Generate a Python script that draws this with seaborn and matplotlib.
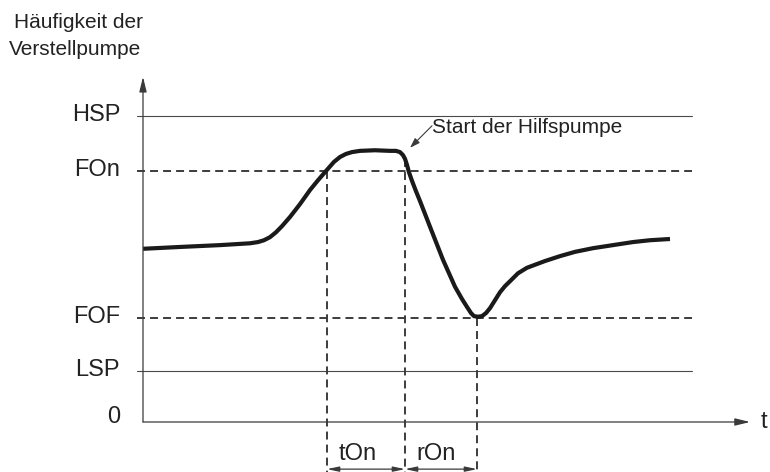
import matplotlib
matplotlib.use("Agg")
import matplotlib.pyplot as plt
import numpy as np
import pandas as pd
import seaborn as sns

# Frequency levels (Hz)
levels_solid = {"HSP": 50.0, "LSP": 8.3}
levels_dash = {"FOn": 41.0, "FOF": 17.0}

# pump frequency curve (time, frequency)
curve_t = [0, 3.7, 7.7, 10.7, 11.5, 12.1, 12.7, 13.3, 13.9, 14.7, 15.7, 16.7, 17.5, 18.4,
           19.1, 19.7, 20.3, 20.9, 21.7, 23.2, 24.7, 25.3, 25.7, 26.0, 26.2, 26.4, 26.6,
           26.9, 27.3, 27.7, 28.7, 30.0, 31.2, 31.9, 32.4, 32.8, 33.1, 33.5, 33.9, 34.3,
           34.7, 35.2, 35.7, 36.2, 36.7, 37.5, 38.4, 40.2, 41.7, 43.2, 45.0, 47.0, 49.0,
           50.7, 52.7]
curve_f = [28.3, 28.6, 28.9, 29.2, 29.4, 29.7, 30.2, 31.0, 32.0, 33.5, 35.6, 37.9, 39.5, 41.2,
           42.5, 43.3, 43.8, 44.1, 44.3, 44.4, 44.3, 44.3, 44.1, 43.6, 43.0, 42.0, 40.8,
           39.4, 37.7, 36.1, 31.9, 26.5, 22.1, 20.1, 18.8, 17.8, 17.3, 17.2, 17.3, 17.8,
           18.6, 19.9, 21.2, 22.2, 23.0, 24.3, 25.2, 26.3, 27.1, 27.8, 28.4, 28.9, 29.4,
           29.7, 29.9]

# time marks: start tOn, end tOn / start rOn, end rOn
mark_t = [18.4, 26.2, 33.4]
mark_top = [41.0, 43.0, 17.0]
span_labels = ["tOn", "rOn"]
span_label_t = [21.5, 29.3]

ylabel_lines = ["Häufigkeit der", "Verstellpumpe"]
annot_text = "Start der Hilfspumpe"

sns.set_style("white")
plt.rcParams["font.family"] = ["Liberation Sans", "DejaVu Sans"]

fig = plt.figure(figsize=(7.7, 4.72), dpi=100)
ax = fig.add_axes([0, 0, 1, 1])
ax.set_xlim(-14.3, 62.7)
ax.set_ylim(-8.17, 68.95)
ax.axis("off")

txt = "#222222"
line_c = "#3a3a3a"
dash = (0, (4.1, 2.6))

# axes with arrows
ax.annotate("", xy=(60.7, 0), xytext=(0, 0),
            arrowprops=dict(arrowstyle="-|>,head_length=0.9,head_width=0.22",
                            color=line_c, lw=0.9, shrinkA=0, shrinkB=0))
ax.annotate("", xy=(0, 56.4), xytext=(0, 0),
            arrowprops=dict(arrowstyle="-|>,head_length=0.9,head_width=0.22",
                            color=line_c, lw=0.9, shrinkA=0, shrinkB=0))

# level lines
for name, v in levels_solid.items():
    ax.plot([-0.6, 54.9], [v, v], color="#4a4a4a", lw=0.8)
    ax.text(-2.3, v - 0.8, name, ha="right", va="baseline", fontsize=17, color=txt)
for name, v in levels_dash.items():
    ax.plot([-0.6, 54.9], [v, v], color="#3c3c3c", lw=1.4, ls=dash)
    ax.text(-2.3, v - 0.8, name, ha="right", va="baseline", fontsize=17, color=txt)
ax.text(-2.3, -0.16, "0", ha="right", va="baseline", fontsize=17, color=txt)
ax.text(61.8, 0, "t", ha="left", va="center", fontsize=17, color=txt)

# vertical dashed marks
for t, top in zip(mark_t, mark_top):
    ax.plot([t, t], [top, -8.17], color="#3c3c3c", lw=1.4, ls=dash)

# dimension arrows
for a, b, lab, lt in zip(mark_t[:-1], mark_t[1:], span_labels, span_label_t):
    ax.annotate("", xy=(b, -7.7), xytext=(a, -7.7),
                arrowprops=dict(arrowstyle="<|-|>,head_length=0.7,head_width=0.15",
                                color=line_c, lw=0.9, shrinkA=0, shrinkB=0))
    ax.text(lt, -6.2, lab, ha="center", va="baseline", fontsize=17, color=txt)

# curve
df = pd.DataFrame({"t": curve_t, "f": curve_f})
sns.lineplot(data=df, x="t", y="f", sort=False, ax=ax, color="#1a1a1a", lw=3.0,
             solid_joinstyle="round", solid_capstyle="butt")

# annotation
ax.annotate("", xy=(26.7, 44.8), xytext=(28.9, 48.4),
            arrowprops=dict(arrowstyle="-|>,head_length=0.6,head_width=0.2",
                            color=line_c, lw=0.8, shrinkA=0, shrinkB=0))
ax.text(28.9, 47.2, annot_text, ha="left", va="baseline", fontsize=15, color=txt)

# y label
ax.text(-6.5, 64.4, ylabel_lines[0], ha="center", va="baseline", fontsize=15, color=txt)
ax.text(-6.8, 60.0, ylabel_lines[1], ha="center", va="baseline", fontsize=15, color=txt)

fig.savefig("out.png", dpi=100)
